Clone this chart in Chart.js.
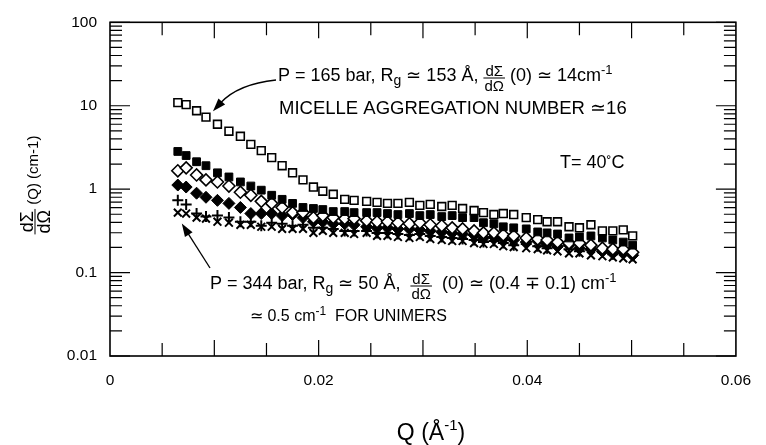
<!DOCTYPE html>
<html>
<head>
<meta charset="utf-8">
<script src="https://cdn.jsdelivr.net/npm/chart.js@4.4.1/dist/chart.umd.min.js"></script>
<style>
  html, body { margin: 0; padding: 0; background: #fff; }
</style>
</head>
<body>
<canvas id="myChart" width="766" height="445"></canvas>
<script>
// scattering vector Q (1/A), shared by all runs
var q = [0.0065, 0.0073, 0.0083, 0.0092, 0.0103, 0.0114, 0.0125, 0.0135, 0.0145, 0.0155,
         0.0165, 0.0175, 0.0185, 0.0195, 0.0204, 0.0214, 0.0225, 0.0234, 0.0246, 0.0256,
         0.0266, 0.0276, 0.0287, 0.0297, 0.0307, 0.0318, 0.0328, 0.0338, 0.0349, 0.0358,
         0.0368, 0.0377, 0.0387, 0.0399, 0.0410, 0.0419, 0.0429, 0.0440, 0.0450, 0.0461,
         0.0472, 0.0482, 0.0492, 0.0501];

// dSigma/dOmega (cm-1), one array per pressure
var openSquares = [10.9, 10.3, 8.7, 7.3, 6.0, 4.95, 4.3, 3.44, 2.9, 2.39,
                   1.91, 1.57, 1.29, 1.06, 0.945, 0.869, 0.755, 0.734, 0.714, 0.694,
                   0.675, 0.675, 0.694, 0.638, 0.656, 0.620, 0.638, 0.586, 0.554, 0.524,
                   0.496, 0.510, 0.496, 0.456, 0.431, 0.407, 0.407, 0.354, 0.344, 0.374,
                   0.316, 0.316, 0.325, 0.275];
var filledSquares = [2.83, 2.53, 2.13, 1.91, 1.57, 1.40, 1.22, 1.09, 0.972, 0.845,
                     0.755, 0.675, 0.603, 0.586, 0.570, 0.539, 0.539, 0.524, 0.524, 0.524,
                     0.510, 0.496, 0.510, 0.482, 0.496, 0.469, 0.482, 0.456, 0.456, 0.396,
                     0.385, 0.354, 0.344, 0.334, 0.307, 0.299, 0.290, 0.260, 0.267, 0.275,
                     0.260, 0.246, 0.232, 0.213];
var openDiamonds = [1.66, 1.80, 1.48, 1.29, 1.22, 1.09, 0.919, 0.845, 0.714, 0.675,
                    0.603, 0.524, 0.524, 0.456, 0.482, 0.456, 0.443, 0.443, 0.419, 0.407,
                    0.407, 0.396, 0.385, 0.396, 0.374, 0.364, 0.344, 0.334, 0.316, 0.299,
                    0.299, 0.282, 0.275, 0.260, 0.253, 0.246, 0.232, 0.226, 0.226, 0.213,
                    0.196, 0.191, 0.191, 0.175];
var filledDiamonds = [1.12, 1.06, 0.894, 0.799, 0.734, 0.675, 0.603, 0.510, 0.510, 0.510,
                      0.482, 0.496, 0.456, 0.407, 0.407, 0.385, 0.385, 0.374, 0.354, 0.344,
                      0.344, 0.334, 0.334, 0.325, 0.316, 0.307, 0.299, 0.290, 0.282, 0.260,
                      0.267, 0.253, 0.246, 0.232, 0.239, 0.220, 0.207, 0.213, 0.196, 0.191,
                      0.180, 0.170, 0.175, 0.161];
var plusMarks = [0.734, 0.656, 0.510, 0.469, 0.482, 0.456, 0.407, 0.407, 0.364, 0.396,
                 0.385, 0.364, 0.374, 0.344, 0.344, 0.334, 0.316, 0.316, 0.316, 0.299,
                 0.299, 0.290, 0.282, 0.290, 0.275, 0.267, 0.260, 0.253, 0.246, 0.232,
                 0.239, 0.226, 0.213, 0.220, 0.207, 0.196, 0.202, 0.191, 0.180, 0.185,
                 0.175, 0.166, 0.170, 0.166];
var crossMarks = [0.524, 0.510, 0.456, 0.443, 0.407, 0.396, 0.374, 0.374, 0.354, 0.354,
                  0.334, 0.334, 0.334, 0.299, 0.316, 0.299, 0.299, 0.290, 0.299, 0.275,
                  0.275, 0.267, 0.260, 0.267, 0.253, 0.246, 0.239, 0.239, 0.226, 0.220,
                  0.220, 0.207, 0.202, 0.196, 0.191, 0.185, 0.180, 0.170, 0.170, 0.161,
                  0.157, 0.152, 0.148, 0.144];

var xTickLabels = [0, 0.02, 0.04, 0.06];
var yTickLabels = [100, 10, 1, 0.1, 0.01];
var xMinorTicks = [0.005, 0.01, 0.015, 0.02, 0.025, 0.03, 0.035, 0.04, 0.045, 0.05, 0.055];

var FONT = '"Liberation Sans", Arial, Helvetica, sans-serif';

function pts(arr) { return q.map(function (x, i) { return { x: x, y: arr[i] }; }); }

// text runs: plain / sub / sup pieces and small stacked fractions
function runWidth(ctx, r) {
  ctx.font = r.size + 'px ' + FONT;
  if (r.frac) {
    return Math.max(ctx.measureText(r.frac[0]).width, ctx.measureText(r.frac[1]).width) + 2;
  }
  return ctx.measureText(r.text).width;
}
function drawRuns(ctx, x, y, runs, align) {
  var total = 0;
  runs.forEach(function (r) { total += runWidth(ctx, r); });
  if (align === 'center') x -= total / 2;
  ctx.textAlign = 'left';
  ctx.textBaseline = 'alphabetic';
  runs.forEach(function (r) {
    var w = runWidth(ctx, r);
    ctx.font = r.size + 'px ' + FONT;
    if (r.frac) {
      var axis = y - 3;
      var wn = ctx.measureText(r.frac[0]).width, wd = ctx.measureText(r.frac[1]).width;
      ctx.fillText(r.frac[0], x + (w - wn) / 2, axis - 2);
      ctx.fillText(r.frac[1], x + (w - wd) / 2, axis + r.size * 0.72 + 2);
      ctx.fillRect(x, axis - 0.5, w, 1);
    } else {
      ctx.fillText(r.text, x, y + (r.dy || 0));
    }
    x += w;
  });
}

function arrow(ctx, sx, sy, cx, cy, tx, ty) {
  var ang = Math.atan2(ty - cy, tx - cx);
  var bx = tx - 11 * Math.cos(ang), by = ty - 11 * Math.sin(ang);
  ctx.beginPath();
  ctx.moveTo(sx, sy);
  ctx.quadraticCurveTo(cx, cy, bx, by);
  ctx.stroke();
  ctx.beginPath();
  ctx.moveTo(tx, ty);
  ctx.lineTo(tx - 13 * Math.cos(ang) + 4.5 * Math.sin(ang), ty - 13 * Math.sin(ang) - 4.5 * Math.cos(ang));
  ctx.lineTo(tx - 13 * Math.cos(ang) - 4.5 * Math.sin(ang), ty - 13 * Math.sin(ang) + 4.5 * Math.cos(ang));
  ctx.closePath();
  ctx.fill();
}

var framePlugin = {
  id: 'frame',
  beforeDatasetsDraw: function (chart) {
    var c = chart.ctx, a = chart.chartArea, xs = chart.scales.x, ys = chart.scales.y;
    c.save();
    c.strokeStyle = '#000';
    c.lineWidth = 1.6;
    c.strokeRect(a.left, a.top, a.right - a.left, a.bottom - a.top);
    c.lineWidth = 1.2;
    c.beginPath();
    xMinorTicks.forEach(function (v) {
      var px = xs.getPixelForValue(v);
      var len = (Math.round(v * 1000) % 10 === 0) ? 16 : 13;
      c.moveTo(px, a.bottom); c.lineTo(px, a.bottom - len);
      c.moveTo(px, a.top); c.lineTo(px, a.top + len);
    });
    for (var d = 0.01; d < 200; d *= 10) {
      for (var m = 1; m <= 9; m++) {
        var v = m * d;
        if (v > 100.0001) break;
        var py = ys.getPixelForValue(v);
        var len = m === 1 ? 20 : 12;
        c.moveTo(a.left, py); c.lineTo(a.left + len, py);
        c.moveTo(a.right, py); c.lineTo(a.right - len, py);
      }
    }
    c.stroke();
    c.restore();
  },
  afterDraw: function (chart) {
    var c = chart.ctx, xs = chart.scales.x, ys = chart.scales.y;
    c.save();
    c.fillStyle = '#000';
    c.strokeStyle = '#000';

    // annotations
    drawRuns(c, 278, 81, [
      { text: 'P = 165 bar, R', size: 18 }, { text: 'g', size: 14, dy: 4 },
      { text: ' \u2243 153 \u00C5, ', size: 18 }, { frac: ['d\u03A3', 'd\u03A9'], size: 15 },
      { text: ' (0) \u2243 14cm', size: 18 }, { text: '-1', size: 13, dy: -7 }
    ]);
    drawRuns(c, 279, 114, [{ text: 'MICELLE AGGREGATION NUMBER \u224316', size: 18.5 }]);
    drawRuns(c, 560, 168, [{ text: 'T= 40', size: 18 }, { text: '\u02DA', size: 15, dy: -1 }, { text: 'C', size: 18 }]);
    drawRuns(c, 210, 289, [
      { text: 'P = 344 bar, R', size: 18 }, { text: 'g', size: 14, dy: 4 },
      { text: ' \u2243 50 \u00C5,  ', size: 18 }, { frac: ['d\u03A3', 'd\u03A9'], size: 15 },
      { text: '  (0) \u2243 (0.4 \u2213 0.1) cm', size: 18 }, { text: '-1', size: 13, dy: -7 }
    ]);
    drawRuns(c, 250, 321, [
      { text: '\u2243 0.5 cm', size: 16 }, { text: '-1', size: 12, dy: -6 },
      { text: '  FOR UNIMERS', size: 16 }
    ]);

    // arrows, tips anchored on the data they point at
    c.lineWidth = 1.3;
    var t1x = xs.getPixelForValue(q[3]) + 7, t1y = ys.getPixelForValue(openSquares[3]) - 6;
    arrow(c, 276, 80, 238, 84, t1x, t1y);
    var t2x = xs.getPixelForValue(q[0]) + 4, t2y = ys.getPixelForValue(crossMarks[0]) + 11;
    arrow(c, 210, 268, 196, 246, t2x, t2y);

    // x title
    drawRuns(c, 431, 440, [
      { text: 'Q (\u00C5', size: 23 }, { text: '-1', size: 15, dy: -10 }, { text: ')', size: 23 }
    ], 'center');

    // y title, rotated
    c.translate(33, 185);
    c.rotate(-Math.PI / 2);
    drawRuns(c, 0, 5, [
      { frac: ['d\u03A3', 'd\u03A9'], size: 18 }, { text: ' (Q) (cm-1)', size: 15 }
    ], 'center');
    c.restore();
  }
};

var ctx = document.getElementById('myChart').getContext('2d');
var myChart = new Chart(ctx, {
  type: 'scatter',
  data: {
    datasets: [
      { label: '165 bar', data: pts(openSquares), pointStyle: 'rect', pointRadius: 5.5,
        backgroundColor: '#fff', borderColor: '#000', borderWidth: 1.6 },
      { label: 'b', data: pts(filledSquares), pointStyle: 'rect', pointRadius: 5.5,
        backgroundColor: '#000', borderColor: '#000', borderWidth: 1 },
      { label: 'c', data: pts(openDiamonds), pointStyle: 'rectRot', pointRadius: 6,
        backgroundColor: '#fff', borderColor: '#000', borderWidth: 1.6 },
      { label: 'd', data: pts(filledDiamonds), pointStyle: 'rectRot', pointRadius: 6,
        backgroundColor: '#000', borderColor: '#000', borderWidth: 1 },
      { label: 'e', data: pts(plusMarks), pointStyle: 'cross', pointRadius: 5.5,
        backgroundColor: '#000', borderColor: '#000', borderWidth: 2 },
      { label: '344 bar', data: pts(crossMarks), pointStyle: 'crossRot', pointRadius: 5.5,
        backgroundColor: '#000', borderColor: '#000', borderWidth: 2 }
    ]
  },
  options: {
    responsive: false,
    animation: false,
    devicePixelRatio: 1,
    layout: { padding: { left: 0, right: 15, top: 17, bottom: 0 } },
    plugins: { legend: { display: false }, tooltip: { enabled: false } },
    scales: {
      x: {
        type: 'linear', min: 0, max: 0.06,
        grid: { display: false, drawTicks: false },
        border: { display: false },
        afterBuildTicks: function (s) { s.ticks = xTickLabels.map(function (v) { return { value: v }; }); },
        afterFit: function (s) { s.height = 89; },
        ticks: { padding: 15, color: '#000', autoSkip: false, maxRotation: 0,
                 font: { family: FONT, size: 15.5 },
                 callback: function (v) { return String(v); } }
      },
      y: {
        type: 'logarithmic', min: 0.01, max: 100,
        grid: { display: false, drawTicks: false },
        border: { display: false },
        afterBuildTicks: function (s) { s.ticks = yTickLabels.map(function (v) { return { value: v }; }); },
        afterFit: function (s) { s.width = 110; },
        ticks: { padding: 13, color: '#000', autoSkip: false,
                 font: { family: FONT, size: 15.5 },
                 callback: function (v) { return String(v); } }
      }
    }
  },
  plugins: [framePlugin]
});
</script>
</body>
</html>
